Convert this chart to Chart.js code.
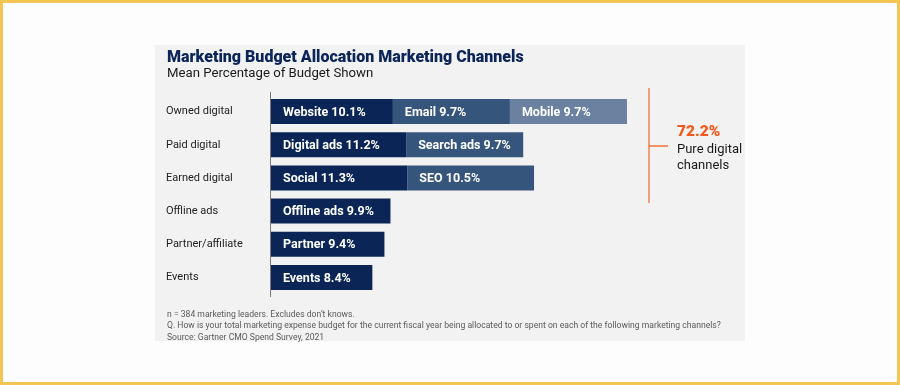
<!DOCTYPE html>
<html>
<head>
<meta charset="utf-8">
<script src="https://cdn.jsdelivr.net/npm/chart.js@4"></script>
<style>
  html, body { margin: 0; padding: 0; background: #fdfdfd; }
  #frame { position: absolute; left: 0; top: 0; width: 900px; height: 385px; background: #fdfdfd; overflow: hidden;
           font-family: Roboto, "Liberation Sans", sans-serif; }
  #border { position: absolute; left: 0; top: 0; width: 900px; height: 385px; box-sizing: border-box;
            border: 3px solid #f2c555; pointer-events: none; }
  #panel { position: absolute; left: 155px; top: 45px; width: 590px; height: 296px; background: #f2f2f2; }
  #chartWrap { position: absolute; left: 0; top: 0; width: 900px; height: 385px; }
  .t { position: absolute; white-space: nowrap; }
  #title { left: 167px; top: 47px; font-size: 16px; font-weight: 900; color: #0b2558; }
  #subtitle { left: 167px; top: 65px; font-size: 13.2px; color: #1a1a1a; }
  #pct { left: 677px; top: 122px; font-size: 15.5px; font-weight: 900; color: #f25a1c; }
  #pure { left: 677px; top: 141px; font-size: 13px; line-height: 16px; color: #1a1a1a; }
  #notes { left: 167px; top: 309px; font-size: 8.6px; line-height: 11.3px; color: #5a5a5a; }
</style>
</head>
<body>
<div id="frame">
  <div id="panel"></div>
  <div id="chartWrap"><canvas id="c" width="900" height="385"></canvas></div>
  <div class="t" id="title">Marketing Budget Allocation Marketing Channels</div>
  <div class="t" id="subtitle">Mean Percentage of Budget Shown</div>
  <div class="t" id="pct">72.2%</div>
  <div class="t" id="pure">Pure digital<br>channels</div>
  <div class="t" id="notes">n = 384 marketing leaders. Excludes don’t knows.<br>Q. How is your total marketing expense budget for the current fiscal year being allocated to or spent on each of the following marketing channels?<br>Source: Gartner CMO Spend Survey, 2021</div>
  <div id="border"></div>
</div>
<script>
const categories = ['Owned digital', 'Paid digital', 'Earned digital', 'Offline ads', 'Partner/affiliate', 'Events'];
const seg1Values = [10.1, 11.2, 11.3, 9.9, 9.4, 8.4];
const seg1Names  = ['Website', 'Digital ads', 'Social', 'Offline ads', 'Partner', 'Events'];
const seg2Values = [9.7, 9.7, 10.5, null, null, null];
const seg2Names  = ['Email', 'Search ads', 'SEO', '', '', ''];
const seg3Values = [9.7, null, null, null, null, null];
const seg3Names  = ['Mobile', '', '', '', '', ''];

const segNames = [seg1Names, seg2Names, seg3Names];

const labelPlugin = {
  id: 'segLabels',
  afterDatasetsDraw(chart) {
    const ctx = chart.ctx;
    ctx.save();
    ctx.fillStyle = '#ffffff';
    ctx.font = 'bold 12.5px Roboto, "Liberation Sans", sans-serif';
    ctx.textBaseline = 'middle';
    ctx.textAlign = 'left';
    chart.data.datasets.forEach((ds, di) => {
      const meta = chart.getDatasetMeta(di);
      meta.data.forEach((bar, i) => {
        const v = ds.data[i];
        if (v === null || v === undefined) return;
        const left = Math.min(bar.x, bar.base);
        ctx.fillText(segNames[di][i] + ' ' + v.toFixed(1) + '%', left + 12, bar.y + 1);
      });
    });
    ctx.restore();
  }
};

const axisLinePlugin = {
  id: 'axisLine',
  beforeDatasetsDraw(chart) {
    const ctx = chart.ctx, a = chart.chartArea;
    const x = chart.scales.x.getPixelForValue(0) - 0.5;
    ctx.save();
    ctx.strokeStyle = '#7a7a7a';
    ctx.lineWidth = 1;
    ctx.beginPath();
    ctx.moveTo(x, a.top - 3);
    ctx.lineTo(x, a.bottom + 3);
    ctx.stroke();
    // orange bracket
    ctx.strokeStyle = '#f5733a';
    ctx.lineWidth = 1.3;
    ctx.beginPath();
    ctx.moveTo(649, 88); ctx.lineTo(649, 203);
    ctx.moveTo(649, 146); ctx.lineTo(668, 146);
    ctx.stroke();
    ctx.restore();
  }
};

new Chart(document.getElementById('c'), {
  type: 'bar',
  data: {
    labels: categories,
    datasets: [
      { data: seg1Values, backgroundColor: '#0b2656' },
      { data: seg2Values, backgroundColor: '#36557d' },
      { data: seg3Values, backgroundColor: '#6a819f' }
    ]
  },
  options: {
    indexAxis: 'y',
    responsive: false,
    animation: false,
    devicePixelRatio: 1,
    layout: { padding: { left: 166, right: 267, top: 95, bottom: 91 } },
    datasets: { bar: { barPercentage: 1, categoryPercentage: 0.755, borderWidth: 0 } },
    plugins: { legend: { display: false }, tooltip: { enabled: false }, title: { display: false } },
    scales: {
      x: { stacked: true, min: 0, max: 30, display: false },
      y: {
        stacked: true,
        grid: { display: false },
        border: { display: false },
        afterFit(scale) { scale.width = 105; },
        ticks: {
          crossAlign: 'far',
          padding: 0,
          color: '#222222',
          font: { family: 'Roboto, "Liberation Sans", sans-serif', size: 11 }
        }
      }
    }
  },
  plugins: [axisLinePlugin, labelPlugin]
});
</script>
</body>
</html>
